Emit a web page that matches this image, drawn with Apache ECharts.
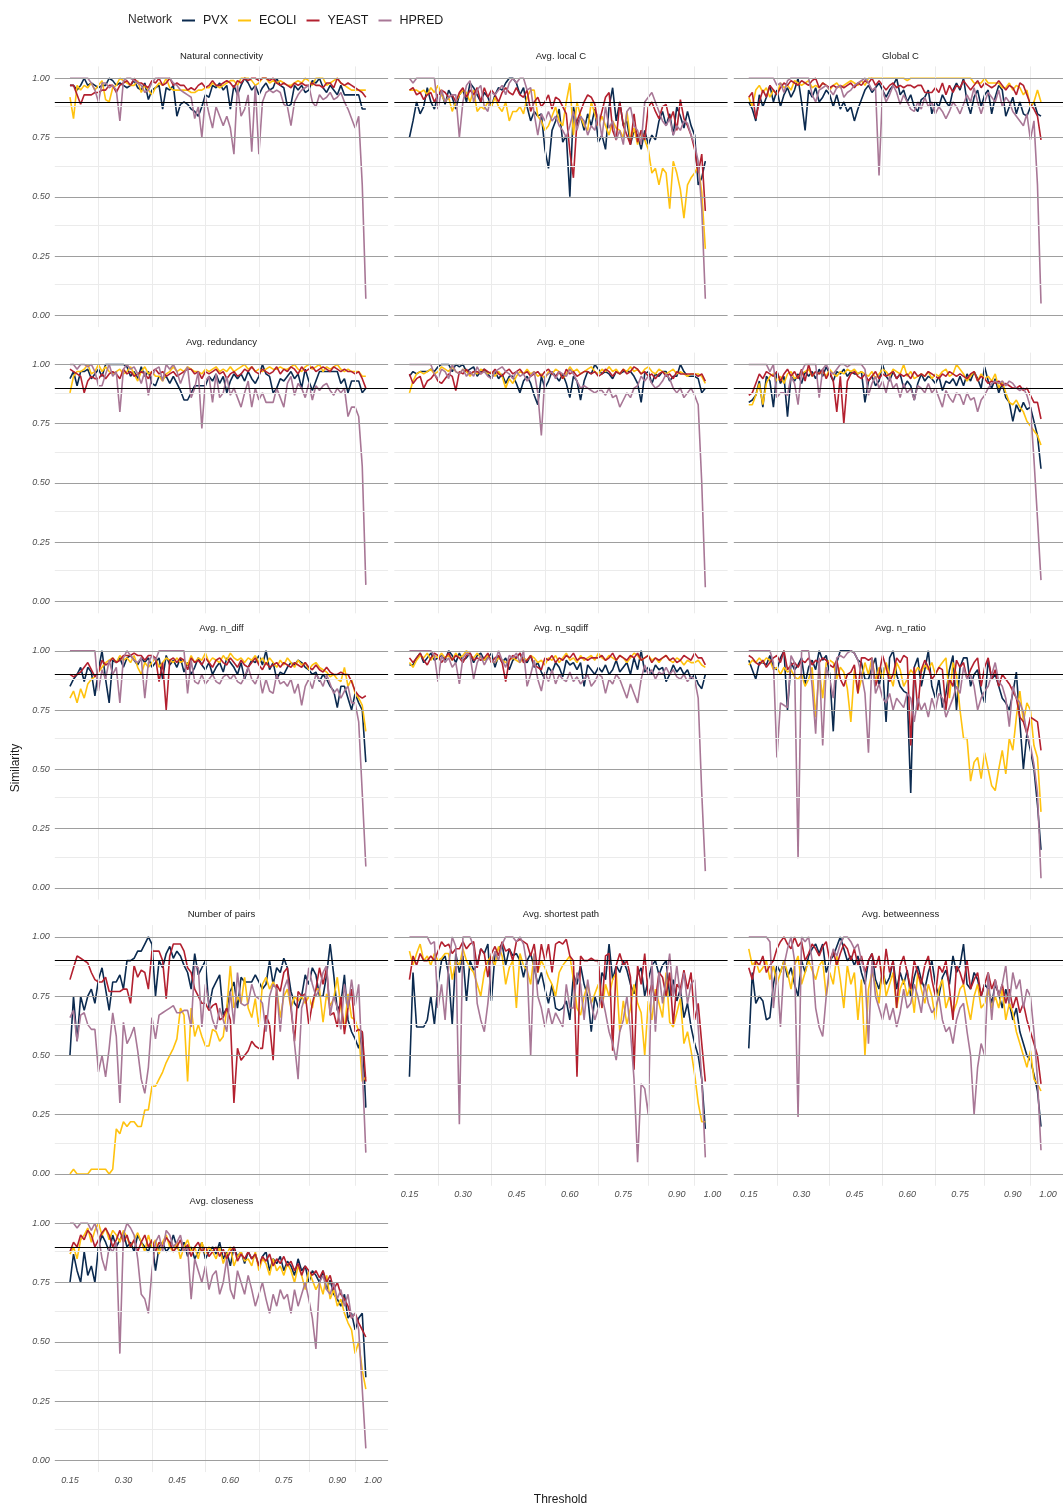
<!DOCTYPE html>
<html>
<head>
<meta charset="utf-8">
<script src="https://cdn.jsdelivr.net/npm/echarts@6/dist/echarts.min.js"></script>
<style>
html,body{margin:0;padding:0;background:#fff}
#chart{width:1063px;height:1506px}
</style>
</head>
<body>
<div id="chart"></div>
<script>
// Threshold values on the x axis
const thresholds = [0.15,0.16,0.17,0.18,0.19,0.20,0.21,0.22,0.23,0.24,0.25,0.26,0.27,0.28,0.29,0.30,0.31,0.32,0.33,0.34,
0.35,0.36,0.37,0.38,0.39,0.40,0.41,0.42,0.43,0.44,0.45,0.46,0.47,0.48,0.49,0.50,0.51,0.52,0.53,0.54,
0.55,0.56,0.57,0.58,0.59,0.60,0.61,0.62,0.63,0.64,0.65,0.66,0.67,0.68,0.69,0.70,0.71,0.72,0.73,0.74,
0.75,0.76,0.77,0.78,0.79,0.80,0.81,0.82,0.83,0.84,0.85,0.86,0.87,0.88,0.89,0.90,0.91,0.92,0.93,0.94,
0.95,0.96,0.97,0.98];

const xTickLabels = [0.15,0.30,0.45,0.60,0.75,0.90,1.00];
const yTickLabels = [0,0.25,0.5,0.75,1];
const networks = ['PVX','ECOLI','YEAST','HPRED'];
const panelTitles = ['Natural connectivity','Avg. local C','Global C','Avg. redundancy','Avg. e_one','Avg. n_two',
  'Avg. n_diff','Avg. n_sqdiff','Avg. n_ratio','Number of pairs','Avg. shortest path','Avg. betweenness','Avg. closeness'];

// Natural connectivity
const natConnPVX = [0.97,0.97,0.95,0.97,1.0,0.97,0.98,0.97,0.96,0.97, 0.97,1.0,0.99,0.97,0.98,0.97,0.96,0.97,0.99,0.96, 0.95,0.98,0.91,0.95,0.96,0.97,0.87,0.96,0.95,0.97, 0.84,0.89,0.9,0.89,0.87,0.86,0.84,0.88,0.93,0.92, 0.97,0.96,0.98,0.95,0.97,0.87,0.97,0.93,0.97,1.0, 0.98,0.95,0.97,0.93,0.96,0.98,0.95,0.96,1.0,0.97, 0.96,0.88,0.89,0.97,0.95,0.97,0.94,0.95,0.99,0.98, 1.0,0.96,0.94,0.97,0.95,0.93,0.97,0.93,0.93,0.93, 0.93,0.93,0.87,0.87];
const natConnECOLI = [0.92,0.83,0.97,0.95,0.97,0.96,0.98,0.95,0.97,0.99, 0.91,0.9,0.96,0.97,1.0,0.99,0.98,0.97,0.97,0.99, 0.94,0.97,0.95,0.93,0.96,0.98,0.97,1.0,0.96,0.95, 0.95,0.95,0.95,0.95,0.94,0.94,0.95,0.95,0.96,0.96, 0.98,0.97,0.96,0.97,0.98,0.99,0.99,0.97,1.0,1.0, 1.0,0.99,0.97,0.98,1.0,1.0,0.98,0.99,0.98,0.99, 0.98,0.97,0.97,0.98,0.99,0.98,1.0,0.99,0.97,1.0, 1.0,1.0,0.97,0.98,0.99,1.0,0.98,0.97,0.96,0.95, 0.95,0.95,0.95,0.95];
const natConnYEAST = [0.97,0.97,0.93,0.89,0.93,0.93,0.93,0.94,0.94,0.95, 0.95,0.97,0.97,0.94,0.97,0.98,0.99,0.97,1.0,0.98, 0.98,0.97,0.96,0.99,0.98,1.0,0.97,0.98,1.0,0.97, 0.98,0.97,0.97,0.95,0.96,0.95,0.97,0.98,0.96,0.97, 0.99,0.97,0.97,0.98,0.99,0.98,0.96,0.99,0.98,1.0, 0.99,1.0,1.0,0.99,1.0,1.0,0.99,1.0,0.98,0.97, 0.98,0.97,0.96,0.98,0.97,0.98,0.97,0.97,0.98,0.97, 0.97,0.96,0.98,0.98,0.96,1.0,0.98,0.97,0.98,0.97, 0.96,0.95,0.94,0.92];
const natConnHPRED = [1.0,1.0,1.0,1.0,1.0,1.0,0.98,0.95,0.9,0.98, 0.98,0.96,0.97,0.95,0.82,0.99,1.0,1.0,0.99,0.98, 0.97,0.94,0.95,0.98,1.0,1.0,1.0,1.0,1.0,0.98, 0.97,0.95,0.94,0.93,0.92,0.83,0.88,0.75,0.92,0.85, 0.79,0.88,0.84,0.8,0.84,0.79,0.68,0.97,0.84,0.87, 0.93,0.69,0.97,0.68,0.9,0.94,0.95,0.94,0.95,0.94, 0.89,0.88,0.8,0.9,0.93,0.95,0.96,0.97,0.9,0.88, 0.93,0.91,0.92,0.94,0.91,0.92,0.94,0.9,0.87,0.83, 0.79,0.84,0.55,0.07];

// Avg. local C
const localCPVX = [0.75,0.82,0.9,0.85,0.88,0.96,0.9,0.87,0.93,0.94, 0.89,0.95,0.92,0.87,0.93,0.95,0.9,0.98,0.96,0.93, 0.9,0.94,0.92,0.88,0.93,0.96,0.95,0.98,1.0,1.0, 0.98,0.93,0.96,0.88,0.82,0.86,0.84,0.85,0.7,0.62, 0.78,0.82,0.87,0.73,0.76,0.5,0.88,0.8,0.84,0.78, 0.85,0.8,0.87,0.73,0.76,0.7,0.88,0.96,0.82,0.9, 0.8,0.82,0.72,0.78,0.76,0.7,0.78,0.72,0.76,0.74, 0.82,0.86,0.8,0.85,0.76,0.88,0.84,0.79,0.86,0.8, 0.76,0.55,0.58,0.65];
const localCECOLI = [0.95,0.95,0.95,0.94,0.95,0.93,0.96,0.94,0.97,0.93, 0.9,0.92,0.86,0.9,0.93,0.95,0.94,0.9,0.95,0.86, 0.88,0.87,0.9,0.88,0.92,0.88,0.86,0.9,0.82,0.86, 0.86,0.88,0.85,0.92,0.95,0.95,0.84,0.82,0.78,0.8, 0.84,0.88,0.82,0.8,0.9,0.98,0.76,0.9,0.84,0.8, 0.78,0.9,0.85,0.8,0.84,0.8,0.76,0.82,0.79,0.78, 0.75,0.86,0.74,0.79,0.72,0.78,0.74,0.7,0.6,0.62, 0.55,0.62,0.6,0.45,0.65,0.6,0.53,0.41,0.55,0.58, 0.6,0.63,0.52,0.28];
const localCYEAST = [0.95,0.96,0.93,0.94,0.91,0.93,0.94,0.9,0.93,0.95, 0.94,0.92,0.93,0.9,0.94,0.96,0.92,0.95,0.93,0.96, 0.9,0.96,0.92,0.95,0.93,0.9,0.94,0.96,0.94,0.93, 0.96,0.93,0.92,0.95,0.86,0.9,0.92,0.88,0.9,0.93, 0.87,0.92,0.91,0.88,0.85,0.69,0.58,0.82,0.86,0.9, 0.93,0.92,0.89,0.8,0.86,0.92,0.94,0.78,0.74,0.9, 0.8,0.76,0.72,0.85,0.73,0.78,0.74,0.88,0.9,0.86, 0.83,0.88,0.89,0.82,0.86,0.78,0.91,0.83,0.8,0.76, 0.7,0.6,0.68,0.44];
const localCHPRED = [1.0,0.98,1.0,1.0,1.0,1.0,1.0,1.0,0.87,0.95, 0.9,0.92,0.93,0.93,0.75,0.9,0.97,0.99,0.9,0.95, 0.97,0.88,0.86,0.94,0.93,0.95,0.97,0.93,0.98,1.0, 0.98,1.0,1.0,0.95,0.96,0.85,0.76,0.85,0.82,0.86, 0.82,0.84,0.8,0.78,0.75,0.8,0.86,0.78,0.84,0.82, 0.76,0.8,0.78,0.85,0.75,0.88,0.79,0.82,0.74,0.78, 0.72,0.86,0.88,0.8,0.78,0.72,0.9,0.92,0.94,0.9, 0.86,0.82,0.8,0.83,0.76,0.8,0.78,0.82,0.81,0.76, 0.72,0.65,0.45,0.07];

// Global C
const globalCPVX = [0.9,0.87,0.82,0.93,0.88,0.92,0.97,0.9,0.95,0.88, 0.93,0.96,0.92,0.95,1.0,0.9,0.78,0.95,0.92,0.96, 0.9,0.92,0.95,0.93,0.88,0.93,0.87,0.9,0.86,0.88, 0.82,0.87,0.91,0.95,0.97,0.94,0.96,0.98,0.95,0.92, 0.95,0.97,1.0,0.93,0.95,0.9,0.93,0.88,0.86,0.91, 0.92,0.95,0.85,0.9,0.88,0.93,0.9,0.88,0.95,0.98, 0.95,1.0,0.9,0.85,0.92,0.95,0.88,0.93,0.95,0.85, 0.92,0.97,0.95,0.84,0.88,0.92,0.85,0.9,0.85,0.84, 0.88,0.9,0.85,0.84];
const globalCECOLI = [0.92,0.88,0.95,0.97,0.94,0.96,0.92,0.95,0.93,0.98, 0.96,0.97,0.95,0.99,0.98,0.97,0.98,0.99,0.96,0.97, 0.96,0.98,0.97,0.95,0.97,0.98,0.96,0.97,0.98,0.99, 0.98,0.97,0.99,0.97,1.0,1.0,1.0,1.0,1.0,1.0, 1.0,1.0,1.0,1.0,1.0,0.99,1.0,1.0,1.0,1.0, 1.0,1.0,1.0,1.0,1.0,1.0,1.0,1.0,1.0,1.0, 1.0,1.0,1.0,1.0,0.98,0.98,0.98,1.0,0.98,0.98, 0.98,0.98,0.96,0.96,0.98,0.95,0.97,0.96,0.93,0.95, 0.88,0.9,0.95,0.9];
const globalCYEAST = [0.92,0.94,0.83,0.9,0.95,0.92,0.97,0.95,0.93,0.96, 0.98,0.97,0.99,0.98,0.97,0.99,0.98,0.97,0.99,1.0, 0.96,0.98,0.97,0.96,0.97,0.96,0.97,0.96,0.97,0.98, 0.96,0.98,0.97,0.99,0.98,1.0,0.97,0.99,0.97,0.95, 0.97,0.98,0.96,0.97,0.96,0.97,0.97,0.96,0.97,0.97, 0.94,0.94,0.94,0.96,0.94,0.98,0.93,0.97,0.94,0.97, 0.96,0.99,0.97,0.95,0.97,0.99,0.96,0.98,0.97,0.96, 0.97,0.99,0.97,0.95,0.97,0.96,0.93,0.98,0.97,0.93, 0.89,0.87,0.84,0.74];
const globalCHPRED = [1.0,1.0,1.0,1.0,1.0,1.0,1.0,1.0,0.97,0.98, 0.94,0.99,1.0,1.0,1.0,1.0,1.0,1.0,0.93,0.9, 0.95,0.96,0.97,0.95,0.93,0.96,0.97,0.92,0.94,0.95, 0.97,0.98,0.99,1.0,0.98,0.95,0.96,0.59,0.95,0.9, 0.93,0.97,0.94,0.89,0.93,0.9,0.87,0.86,0.9,0.87, 0.92,0.88,0.9,0.85,0.88,0.86,0.83,0.86,0.9,0.88, 0.85,0.89,0.93,0.9,0.96,0.9,0.85,0.9,0.94,0.92, 0.9,0.95,0.88,0.92,0.9,0.86,0.84,0.82,0.8,0.85, 0.74,0.82,0.55,0.05];

// Avg. redundancy
const redundPVX = [0.94,0.97,0.91,0.97,0.97,0.98,0.94,0.96,0.98,0.95, 1.0,1.0,1.0,1.0,1.0,1.0,0.99,0.95,0.97,0.94, 0.99,0.95,0.97,0.92,0.91,0.95,0.94,0.95,0.92,0.95, 0.92,0.89,0.85,0.85,0.88,0.91,0.91,0.91,0.91,0.95, 0.93,0.96,0.92,0.95,0.88,0.93,0.96,0.94,0.96,0.93, 0.97,0.94,0.92,0.95,1.0,0.96,0.95,0.88,0.9,0.94, 0.93,0.95,0.97,0.94,0.96,0.9,0.98,0.93,0.89,0.93, 0.97,0.97,0.97,0.97,0.97,0.97,0.92,0.94,0.88,0.93, 0.93,0.93,0.88,0.9];
const redundECOLI = [0.88,0.95,0.97,0.97,0.98,1.0,0.96,0.97,1.0,0.97, 0.99,0.97,0.96,0.97,0.98,0.96,0.97,0.99,0.96,0.93, 0.97,0.99,0.96,0.97,0.95,0.95,0.93,0.96,0.97,0.99, 0.97,0.98,0.97,0.99,0.98,0.97,0.97,0.96,0.98,0.97, 0.98,0.99,0.97,0.98,0.97,0.99,0.97,0.98,0.99,1.0, 0.98,0.99,0.97,0.98,0.97,0.98,0.99,0.98,0.98,0.99, 0.98,0.98,0.99,1.0,0.98,0.97,0.99,1.0,0.98,0.99, 1.0,0.97,0.99,0.98,0.99,1.0,0.98,0.97,0.98,0.97, 0.97,0.97,0.95,0.95];
const redundYEAST = [0.98,0.97,0.96,0.95,0.88,0.93,0.95,0.94,0.94,0.96, 0.94,0.96,0.97,0.96,0.94,0.98,0.96,0.97,0.95,0.96, 0.97,0.96,0.94,0.97,0.98,0.96,0.97,0.95,0.96,0.97, 0.95,0.96,0.97,0.98,0.98,0.96,0.97,0.94,0.97,0.96, 0.97,0.98,0.96,0.97,0.94,0.96,0.97,0.95,0.96,0.98, 0.97,0.99,0.97,0.96,0.98,0.97,0.96,0.97,0.99,0.96, 0.98,0.97,0.99,0.98,0.96,0.99,0.97,0.98,0.99,0.97, 0.98,0.99,0.98,0.97,0.99,0.98,0.97,0.98,0.97,0.97, 0.96,0.97,0.94,0.9];
const redundHPRED = [1.0,1.0,0.98,1.0,1.0,0.99,1.0,0.97,0.91,0.91, 0.96,1.0,0.95,0.97,0.8,0.98,1.0,0.98,0.99,0.96, 0.92,0.97,0.87,0.95,0.98,0.99,0.93,1.0,0.98,1.0, 0.97,0.92,0.96,0.99,0.86,0.9,0.97,0.73,0.93,0.95, 0.84,0.96,0.86,0.88,0.95,0.87,0.9,0.86,0.82,0.88, 0.93,0.82,0.9,0.85,0.88,0.84,0.84,0.84,0.9,0.86, 0.82,0.92,0.95,0.87,0.92,0.9,0.86,0.92,0.85,0.91, 0.89,0.91,0.92,0.89,0.87,0.9,0.88,0.9,0.78,0.82, 0.82,0.78,0.57,0.07];

// Avg. e_one
const eOnePVX = [0.95,0.97,0.96,0.97,0.97,0.97,0.98,0.97,0.99,1.0, 1.0,1.0,0.97,1.0,0.99,1.0,0.97,0.98,0.99,0.95, 0.97,0.98,0.96,0.94,0.97,0.94,0.96,0.92,0.95,0.95, 0.92,0.88,0.93,0.95,0.92,0.87,0.83,0.95,0.9,0.93, 0.97,0.95,0.93,0.96,0.92,0.86,0.95,0.93,0.85,0.93, 0.97,0.96,1.0,0.98,0.96,0.97,0.96,0.94,0.97,0.96, 0.97,0.97,0.97,0.95,0.92,0.84,0.96,0.97,0.92,0.96, 0.95,0.97,0.97,0.93,0.95,0.95,1.0,0.97,0.95,0.95, 0.95,0.94,0.88,0.9];
const eOneECOLI = [0.88,0.93,0.96,0.97,0.96,0.97,0.98,0.96,0.97,0.99, 0.98,0.97,0.99,0.97,0.96,0.98,0.97,0.95,0.97,0.96, 0.98,0.97,0.96,0.97,0.95,0.97,0.95,0.9,0.94,0.92, 0.95,0.97,0.96,0.98,0.96,0.97,0.95,0.96,0.94,0.97, 0.96,0.98,0.97,0.94,0.96,0.99,0.97,0.98,0.96,0.97, 0.98,0.99,0.97,0.96,0.98,0.97,0.99,0.97,0.98,0.96, 0.98,0.97,0.99,0.97,0.98,0.96,0.98,0.99,0.97,0.96, 0.98,0.97,0.96,0.97,0.98,0.96,0.97,0.96,0.95,0.96, 0.96,0.96,0.95,0.92];
const eOneYEAST = [0.96,0.92,0.94,0.95,0.9,0.93,0.94,0.96,0.93,0.92, 0.94,0.96,0.95,0.89,0.97,0.96,0.98,0.96,0.97,0.97, 0.96,0.98,0.97,0.96,0.98,0.96,0.95,0.97,0.98,0.96, 0.97,0.98,0.96,0.97,0.95,0.96,0.97,0.95,0.97,0.98, 0.96,0.95,0.97,0.94,0.98,0.96,0.97,0.95,0.96,0.97, 0.97,0.96,0.97,0.95,0.96,0.98,0.97,0.95,0.97,0.96, 0.98,0.96,0.97,0.99,0.98,0.96,0.97,0.95,0.96,0.94, 0.96,0.97,0.95,0.96,0.94,0.97,0.96,0.96,0.96,0.96, 0.96,0.95,0.96,0.93];
const eOneHPRED = [1.0,1.0,1.0,1.0,1.0,1.0,1.0,0.96,0.94,0.98, 0.97,0.94,1.0,0.97,0.96,0.98,0.95,0.97,0.95,0.99, 0.96,0.97,0.95,0.94,0.97,0.98,0.99,0.97,0.96,0.94, 0.97,0.95,0.96,0.93,0.95,0.97,0.88,0.7,0.95,0.96, 0.97,0.94,0.97,0.96,0.95,0.98,0.96,0.93,0.9,0.91, 0.9,0.89,0.88,0.89,0.89,0.87,0.9,0.86,0.87,0.82, 0.85,0.88,0.86,0.9,0.91,0.95,0.93,0.95,0.92,0.9, 0.91,0.93,0.96,0.94,0.9,0.88,0.9,0.86,0.88,0.9, 0.87,0.83,0.5,0.06];

// Avg. n_two
const nTwoPVX = [0.84,0.85,0.87,0.93,0.82,0.95,0.93,0.82,0.97,0.92, 0.95,0.78,0.95,0.93,0.96,0.92,0.97,0.95,0.97,0.94, 0.98,0.95,0.99,0.96,0.93,0.97,0.96,0.98,0.95,0.97, 0.96,0.96,0.97,0.84,0.93,0.95,0.91,0.93,1.0,0.95, 0.93,0.97,0.94,0.96,0.9,0.93,0.91,0.85,0.92,0.96, 0.93,0.95,0.94,0.92,0.95,0.89,0.93,0.92,0.94,0.91, 0.95,0.91,0.96,0.93,0.97,0.94,0.9,0.99,0.93,0.9, 0.94,0.88,0.92,0.86,0.84,0.76,0.83,0.8,0.84,0.81, 0.82,0.76,0.7,0.56];
const nTwoECOLI = [0.83,0.83,0.87,0.92,0.83,0.92,0.95,0.96,0.93,0.95, 0.92,0.96,0.97,0.94,0.95,0.96,0.97,0.98,0.95,0.97, 0.96,0.97,0.95,0.98,0.96,0.95,0.97,0.96,0.98,0.97, 0.98,0.96,0.97,0.96,0.95,0.97,0.94,0.96,0.98,0.97, 0.95,0.98,0.97,0.96,1.0,0.95,0.97,0.94,0.95,0.96, 0.95,0.97,0.94,0.96,0.95,0.97,0.98,0.95,0.96,1.0, 0.98,0.96,0.93,0.95,0.97,0.93,0.96,0.94,0.95,0.93, 0.96,0.9,0.93,0.88,0.84,0.83,0.85,0.82,0.8,0.76, 0.74,0.72,0.7,0.66];
const nTwoYEAST = [0.87,0.88,0.92,0.96,0.94,0.97,0.96,0.95,0.97,0.93, 0.96,0.98,0.95,0.97,0.94,0.98,0.93,1.0,0.95,0.97, 0.96,0.98,0.94,0.97,0.93,0.8,0.95,0.75,0.93,0.96, 0.97,0.95,0.94,0.96,0.93,0.95,0.97,0.94,0.96,0.95, 0.96,0.97,0.94,0.96,0.95,0.96,0.94,0.97,0.95,0.96, 0.95,0.97,0.96,0.95,0.94,0.96,0.95,0.97,0.96,0.95, 0.96,0.95,0.94,0.96,0.97,0.93,0.95,0.94,0.92,0.93, 0.92,0.93,0.91,0.92,0.91,0.9,0.9,0.91,0.89,0.9, 0.87,0.84,0.84,0.77];
const nTwoHPRED = [1.0,1.0,1.0,1.0,1.0,1.0,0.97,1.0,0.86,0.88, 0.88,0.87,0.95,0.92,0.83,0.97,1.0,1.0,1.0,1.0, 0.86,0.98,1.0,0.97,0.96,0.98,1.0,1.0,0.99,1.0, 1.0,1.0,1.0,0.98,0.87,0.92,0.95,0.9,0.93,0.88, 0.95,0.9,0.92,0.86,0.92,0.88,0.9,0.85,0.91,0.9, 0.88,0.92,0.88,0.9,0.86,0.82,0.89,0.86,0.84,0.88, 0.87,0.83,0.88,0.85,0.86,0.8,0.85,0.87,0.9,0.92, 0.93,0.92,0.93,0.91,0.93,0.92,0.9,0.89,0.9,0.87, 0.82,0.6,0.35,0.09];

// Avg. n_diff
const nDiffPVX = [0.85,0.88,0.9,0.93,0.87,0.93,0.91,0.81,0.92,1.0, 0.88,0.78,0.96,0.95,0.97,0.93,0.97,0.98,0.96,0.94, 0.97,0.95,0.97,0.93,0.95,0.97,0.88,0.98,0.94,0.96, 0.93,0.97,0.91,0.95,0.9,0.93,0.97,0.94,0.92,0.95, 0.9,0.93,0.95,0.91,0.97,0.95,0.93,0.9,0.95,0.88, 0.93,0.96,0.95,0.98,0.94,1.0,0.92,0.95,0.88,0.91, 0.9,0.93,0.95,0.94,0.96,0.95,0.93,0.92,0.9,0.91, 0.87,0.9,0.88,0.85,0.83,0.76,0.85,0.85,0.8,0.75, 0.82,0.78,0.75,0.53];
const nDiffECOLI = [0.8,0.83,0.78,0.84,0.8,0.86,0.88,0.89,0.91,0.93, 0.95,0.96,0.97,0.95,0.98,0.96,0.97,0.95,0.98,0.93, 0.9,0.95,0.93,0.95,0.97,0.93,0.95,0.97,0.96,0.95, 0.97,0.95,0.96,0.94,0.98,0.95,0.97,0.96,0.99,0.95, 0.97,0.96,0.95,0.98,0.96,0.99,0.97,0.96,0.97,0.95, 0.97,0.96,0.98,0.95,0.97,0.94,0.97,0.95,0.93,0.96, 0.94,0.97,0.95,0.93,0.96,0.94,0.95,0.92,0.94,0.95, 0.93,0.92,0.91,0.89,0.9,0.88,0.87,0.93,0.85,0.88, 0.82,0.8,0.77,0.66];
const nDiffYEAST = [0.9,0.89,0.9,0.91,0.93,0.95,0.92,0.89,0.91,0.96, 0.94,0.95,0.97,0.95,0.96,0.98,0.98,0.98,0.99,0.98, 0.98,0.96,0.98,0.98,0.97,0.87,0.95,0.75,0.96,0.97, 0.95,0.97,0.96,0.92,0.97,0.95,0.96,0.94,0.97,0.95, 0.93,0.96,0.97,0.95,0.94,0.97,0.95,0.93,0.96,0.94, 0.93,0.95,0.97,0.94,0.92,0.95,0.93,0.94,0.95,0.93, 0.95,0.94,0.93,0.95,0.94,0.93,0.95,0.93,0.92,0.94, 0.92,0.91,0.93,0.91,0.9,0.9,0.91,0.9,0.9,0.87, 0.83,0.81,0.8,0.81];
const nDiffHPRED = [1.0,1.0,1.0,1.0,1.0,1.0,1.0,1.0,0.83,0.92, 0.88,0.96,0.9,0.93,0.78,0.97,1.0,0.98,0.96,0.95, 0.97,0.8,0.95,0.98,0.96,1.0,1.0,1.0,1.0,1.0, 1.0,1.0,1.0,0.82,0.96,0.87,0.86,0.9,0.86,0.88, 0.9,0.87,0.86,0.89,0.9,0.88,0.9,0.87,0.86,0.89, 0.93,0.88,0.86,0.9,0.82,0.88,0.83,0.82,0.9,0.86, 0.87,0.85,0.88,0.82,0.86,0.77,0.85,0.88,0.84,0.9, 0.88,0.85,0.9,0.86,0.82,0.84,0.8,0.83,0.85,0.78, 0.78,0.7,0.4,0.09];

// Avg. n_sqdiff
const nSqdiffPVX = [0.94,0.94,0.97,0.99,0.95,0.97,0.99,0.96,0.97,0.98, 0.96,1.0,0.98,0.95,0.99,0.96,0.97,0.99,0.95,0.98, 0.99,0.96,0.97,0.99,0.93,0.98,0.95,0.97,0.92,0.96, 0.97,0.99,0.96,0.95,0.98,0.93,0.95,0.91,0.88,0.93, 0.91,0.95,0.93,0.89,0.96,0.94,0.95,0.92,0.95,0.85, 0.94,0.92,0.9,0.93,0.91,0.94,0.9,0.92,0.96,0.91, 0.93,0.95,0.9,0.97,0.92,1.0,0.91,0.93,0.9,0.94, 0.92,0.93,0.87,0.9,0.94,0.91,0.93,0.9,0.92,0.88, 0.9,0.86,0.84,0.9];
const nSqdiffECOLI = [0.95,0.93,0.96,0.98,0.97,0.99,0.96,0.98,0.97,0.99, 0.97,0.98,0.96,0.99,0.97,0.98,1.0,0.98,0.97,0.99, 0.97,0.96,0.98,0.96,0.95,0.97,0.96,0.95,0.96,0.97, 0.96,0.95,0.97,0.96,0.98,0.97,0.95,0.96,0.94,0.97, 0.96,0.98,0.95,0.97,0.99,0.96,0.97,0.95,0.98,0.96, 0.97,0.98,0.96,0.99,0.97,0.96,0.98,0.97,0.96,0.98, 0.97,0.95,0.97,0.99,0.98,0.96,0.97,0.98,0.96,0.97, 0.95,0.97,0.98,0.96,0.95,0.97,0.96,0.94,0.96,0.95, 0.95,0.96,0.94,0.93];
const nSqdiffYEAST = [0.97,0.95,0.97,0.99,0.96,0.94,0.97,0.99,0.98,0.95, 0.97,0.99,0.96,0.98,0.97,0.95,0.98,0.99,0.96,0.97, 0.96,0.97,0.99,0.95,0.97,0.98,0.95,0.87,0.96,0.98, 0.97,0.99,0.95,0.96,0.98,0.94,0.93,0.92,0.97,0.96, 0.98,0.95,0.97,0.96,0.98,0.97,0.99,0.96,0.97,0.97, 0.96,0.97,0.97,0.97,0.98,0.96,0.97,0.99,0.96,0.98, 0.97,0.96,0.98,0.97,0.99,0.96,0.97,0.98,0.95,0.97, 0.96,0.97,0.98,0.96,0.97,0.95,0.96,0.98,0.97,0.96, 0.99,0.97,0.97,0.94];
const nSqdiffHPRED = [1.0,1.0,1.0,1.0,1.0,1.0,1.0,0.98,0.87,0.98, 0.95,0.97,0.93,0.95,0.86,0.97,0.99,0.98,0.88,0.95, 0.98,0.94,0.97,0.96,0.95,1.0,0.96,0.93,0.98,0.97, 0.99,0.95,1.0,0.85,0.9,0.96,0.88,0.83,0.91,0.87, 0.92,0.86,0.9,0.88,0.87,0.91,0.87,0.89,0.86,0.88, 0.9,0.85,0.87,0.9,0.89,0.82,0.88,0.86,0.9,0.88, 0.84,0.8,0.86,0.82,0.78,0.88,0.94,0.9,0.92,0.88, 0.91,0.9,0.93,0.9,0.92,0.89,0.88,0.9,0.87,0.89, 0.88,0.8,0.4,0.07];

// Avg. n_ratio
const nRatioPVX = [0.96,0.92,0.88,0.95,0.95,0.94,0.98,0.93,0.92,0.97, 1.0,0.75,0.95,0.92,0.94,0.97,0.86,0.93,0.96,0.92, 1.0,0.96,0.98,0.9,0.66,0.95,1.0,1.0,1.0,1.0, 0.99,0.96,0.95,0.88,0.88,0.93,0.97,0.85,0.93,0.7, 0.97,1.0,0.9,0.85,0.83,0.82,0.4,0.93,0.97,0.85, 0.92,1.0,0.85,0.8,0.88,0.76,0.82,0.92,0.98,0.75, 0.93,0.97,0.97,0.85,0.9,0.92,0.83,0.78,0.96,0.88, 0.9,0.85,0.8,0.78,0.75,0.82,0.91,0.7,0.5,0.65, 0.58,0.5,0.35,0.16];
const nRatioECOLI = [0.94,0.96,0.95,0.97,0.95,0.97,0.96,0.92,0.93,0.9, 0.93,0.91,0.92,0.89,0.88,0.9,0.85,0.88,0.93,0.72, 0.92,0.8,0.95,0.96,0.95,0.88,0.93,0.91,0.84,0.7, 0.92,0.82,0.88,0.95,0.9,0.97,0.87,0.93,0.88,0.95, 0.9,0.85,0.95,0.92,0.85,0.88,0.92,0.9,0.93,0.91, 0.94,0.92,0.95,0.9,0.93,0.95,0.97,0.8,0.95,0.9, 0.75,0.63,0.63,0.45,0.53,0.55,0.46,0.57,0.5,0.43, 0.41,0.5,0.58,0.48,0.63,0.58,0.72,0.83,0.7,0.78, 0.75,0.6,0.55,0.32];
const nRatioYEAST = [0.98,0.97,0.95,0.94,0.96,0.93,0.95,0.97,0.98,0.95, 1.0,0.92,0.94,0.95,0.93,0.96,0.95,0.97,0.94,0.96, 0.95,0.97,0.96,0.94,0.93,0.96,0.88,0.85,0.9,0.91, 0.94,0.82,0.97,0.97,0.96,0.97,0.85,0.9,0.98,0.93, 0.87,0.9,0.97,0.95,0.98,0.97,0.6,0.93,0.75,0.92, 0.96,0.93,0.88,0.9,0.93,0.92,0.75,0.88,0.85,0.96, 0.93,0.95,0.88,0.92,0.95,0.97,0.85,0.93,0.97,0.88, 0.92,0.85,0.9,0.88,0.86,0.83,0.8,0.72,0.7,0.65, 0.72,0.71,0.7,0.58];
const nRatioHPRED = [1.0,1.0,1.0,1.0,1.0,1.0,1.0,0.95,0.55,0.78, 0.77,0.76,0.98,0.95,0.125,1.0,1.0,1.0,0.85,0.65, 0.97,0.6,0.93,0.88,0.8,0.97,0.98,0.97,0.99,1.0, 0.99,0.96,0.9,0.82,0.57,0.97,0.82,0.86,0.8,0.78, 0.82,0.75,0.8,0.78,0.76,0.82,0.8,0.7,0.8,0.75, 0.78,0.72,0.8,0.75,0.82,0.8,0.72,0.76,0.8,0.85, 0.82,0.93,0.88,0.9,0.85,0.75,0.8,0.83,0.85,0.9, 0.95,0.87,0.85,0.8,0.68,0.85,0.8,0.78,0.74,0.65, 0.6,0.52,0.4,0.04];

// Number of pairs
const pairsPVX = [0.5,0.75,0.56,0.75,0.69,0.75,0.78,0.72,0.82,0.87, 0.78,0.69,0.81,0.81,0.84,0.78,0.9,0.9,0.91,0.94, 0.94,0.97,1.0,0.97,0.75,0.9,0.87,0.93,0.96,0.91, 0.94,0.92,0.88,0.85,0.78,0.93,0.84,0.87,0.9,0.7, 0.78,0.81,0.84,0.67,0.7,0.77,0.81,0.7,0.83,0.81, 0.81,0.81,0.84,0.81,0.78,0.8,0.9,0.8,0.87,0.85, 0.91,0.87,0.77,0.72,0.7,0.75,0.84,0.8,0.87,0.84, 0.75,0.75,0.84,0.97,0.84,0.69,0.72,0.84,0.65,0.6, 0.57,0.53,0.6,0.28];
const pairsECOLI = [0.0,0.02,0.0,0.0,0.0,0.0,0.02,0.02,0.02,0.02, 0.02,0.0,0.02,0.19,0.17,0.22,0.2,0.22,0.22,0.2, 0.2,0.27,0.27,0.37,0.37,0.4,0.43,0.47,0.5,0.53, 0.57,0.7,0.67,0.39,0.7,0.58,0.63,0.58,0.54,0.54, 0.61,0.6,0.56,0.58,0.7,0.88,0.7,0.75,0.72,0.83, 0.7,0.66,0.74,0.62,0.8,0.83,0.78,0.81,0.78,0.66, 0.75,0.78,0.7,0.75,0.73,0.75,0.72,0.75,0.7,0.78, 0.78,0.64,0.76,0.71,0.74,0.83,0.7,0.61,0.76,0.66, 0.65,0.6,0.39,0.41];
const pairsYEAST = [0.82,0.87,0.92,0.91,0.9,0.89,0.85,0.82,0.81,0.81, 0.83,0.77,0.77,0.77,0.77,0.78,0.78,0.72,0.88,0.83, 0.86,0.85,0.78,0.94,0.94,0.94,0.9,0.74,0.92,0.97, 0.97,0.97,0.94,0.87,0.85,0.78,0.75,0.72,0.72,0.69, 0.71,0.72,0.65,0.66,0.7,0.65,0.3,0.53,0.48,0.5, 0.52,0.56,0.54,0.53,0.53,0.67,0.63,0.48,0.8,0.77, 0.85,0.87,0.7,0.56,0.77,0.75,0.76,0.63,0.72,0.78, 0.87,0.8,0.87,0.67,0.68,0.62,0.75,0.59,0.7,0.78, 0.6,0.61,0.6,0.39];
const pairsHPRED = [0.66,0.69,0.56,0.67,0.68,0.63,0.61,0.61,0.43,0.5, 0.41,0.53,0.68,0.58,0.3,0.64,0.55,0.58,0.62,0.52, 0.4,0.34,0.45,0.66,0.57,0.67,0.68,0.69,0.7,0.71, 0.68,0.68,0.69,0.69,0.62,0.88,0.87,0.62,0.8,0.72, 0.65,0.61,0.7,0.65,0.6,0.77,0.63,0.85,0.72,0.71, 0.72,0.8,0.75,0.74,0.72,0.6,0.75,0.8,0.78,0.6, 0.78,0.82,0.72,0.55,0.4,0.7,0.75,0.87,0.8,0.75, 0.78,0.85,0.88,0.67,0.75,0.7,0.61,0.8,0.7,0.82, 0.71,0.8,0.45,0.09];

// Avg. shortest path
const shortPathPVX = [0.41,0.85,0.62,0.62,0.62,0.65,0.75,0.63,0.8,0.9, 0.92,0.84,0.63,0.93,0.85,0.92,0.73,0.9,0.86,0.88, 0.95,0.93,0.97,0.73,0.93,0.95,0.97,0.88,0.95,0.92, 0.93,0.9,0.83,0.9,0.93,0.87,0.8,0.85,0.78,0.72, 0.8,0.7,0.69,0.7,0.73,0.65,0.84,0.8,0.88,0.8, 0.75,0.6,0.75,0.7,0.85,0.82,0.97,0.82,0.88,0.85, 0.9,0.86,0.8,0.76,0.84,0.87,0.75,0.82,0.88,0.9, 0.84,0.88,0.9,0.75,0.82,0.73,0.78,0.66,0.72,0.62, 0.55,0.5,0.4,0.19];
const shortPathECOLI = [0.94,0.88,0.93,0.97,0.9,0.92,0.88,0.93,0.9,0.91, 0.93,0.93,0.82,0.9,0.88,0.95,0.9,0.87,0.85,0.8, 0.75,0.85,0.9,0.92,0.88,0.96,0.92,0.8,0.87,0.9, 0.7,0.93,0.88,0.86,0.8,0.93,0.85,0.9,0.87,0.83, 0.8,0.75,0.85,0.88,0.9,0.92,0.82,0.7,0.67,0.75, 0.8,0.72,0.76,0.8,0.7,0.8,0.75,0.82,0.85,0.6, 0.73,0.63,0.7,0.8,0.72,0.68,0.5,0.73,0.65,0.78, 0.72,0.66,0.85,0.64,0.62,0.68,0.74,0.55,0.6,0.52, 0.42,0.3,0.22,0.22];
const shortPathYEAST = [0.82,0.92,0.88,0.93,0.9,0.9,0.92,0.9,0.94,0.98, 0.96,0.97,0.93,0.95,0.95,0.98,0.95,0.97,0.98,0.87, 0.95,0.93,0.83,0.93,0.96,0.92,0.98,0.94,0.95,0.9, 0.98,0.99,0.98,0.97,0.92,0.97,0.85,0.97,0.9,0.97, 0.85,0.97,0.98,0.97,0.99,0.92,0.9,0.41,0.92,0.9, 0.9,0.91,0.9,0.9,0.7,0.92,0.93,0.52,0.88,0.93, 0.88,0.9,0.83,0.44,0.88,0.8,0.93,0.75,0.8,0.73, 0.85,0.83,0.75,0.85,0.63,0.8,0.78,0.86,0.78,0.85, 0.65,0.72,0.55,0.39];
const shortPathHPRED = [1.0,1.0,1.0,1.0,1.0,1.0,0.97,0.98,0.7,0.8, 0.65,0.88,1.0,0.96,0.21,1.0,1.0,1.0,0.96,0.72, 0.65,0.6,0.72,0.88,0.94,0.9,0.97,1.0,1.0,1.0, 0.98,1.0,0.97,0.88,0.5,0.93,0.75,0.7,0.62,0.7, 0.63,0.68,0.65,0.62,0.8,0.7,0.7,0.85,0.8,0.65, 0.82,0.72,0.65,0.7,0.75,0.68,0.6,0.55,0.48,0.6, 0.65,0.75,0.6,0.4,0.05,0.38,0.36,0.25,0.9,0.6, 0.85,0.72,0.82,0.93,0.75,0.88,0.75,0.85,0.72,0.8, 0.82,0.62,0.4,0.07];

// Avg. betweenness
const betweenPVX = [0.53,0.85,0.72,0.75,0.73,0.65,0.66,0.8,0.88,0.85, 0.9,0.83,0.87,0.8,0.75,0.9,0.85,0.92,0.95,0.97, 0.93,0.97,0.85,0.9,0.92,0.96,1.0,0.95,0.9,0.92, 0.88,0.92,0.85,0.8,0.9,0.93,0.82,0.78,0.85,0.8, 0.83,0.9,0.78,0.85,0.8,0.86,0.75,0.83,0.88,0.82, 0.78,0.85,0.9,0.8,0.75,0.83,0.86,0.8,0.92,0.85, 0.88,0.97,0.8,0.78,0.85,0.82,0.75,0.8,0.78,0.72, 0.8,0.76,0.7,0.78,0.72,0.65,0.7,0.6,0.55,0.5, 0.48,0.42,0.35,0.2];
const betweenECOLI = [0.95,0.88,0.9,0.85,0.87,0.9,0.82,0.88,0.8,0.85, 0.9,0.85,0.78,0.88,0.92,0.8,0.85,0.9,0.86,0.82, 0.88,0.9,0.75,0.85,0.8,0.92,0.82,0.7,0.88,0.8, 0.85,0.65,0.82,0.5,0.78,0.85,0.8,0.72,0.88,0.75, 0.8,0.85,0.7,0.78,0.82,0.75,0.8,0.68,0.85,0.78, 0.72,0.8,0.75,0.65,0.78,0.82,0.7,0.75,0.68,0.72, 0.78,0.8,0.72,0.65,0.75,0.8,0.7,0.72,0.78,0.7, 0.75,0.7,0.78,0.65,0.72,0.68,0.6,0.55,0.5,0.45, 0.52,0.4,0.38,0.35];
const betweenYEAST = [0.87,0.82,0.9,0.88,0.92,0.85,0.88,0.9,0.95,0.98, 1.0,0.97,0.95,1.0,0.96,0.98,0.9,0.93,0.97,0.95, 0.92,0.96,0.98,0.9,0.94,0.88,0.93,0.97,0.95,0.9, 0.95,0.88,0.92,0.85,0.9,0.93,0.87,0.92,0.8,0.95, 0.85,0.9,0.7,0.88,0.92,0.85,0.78,0.9,0.85,0.8, 0.88,0.92,0.82,0.75,0.88,0.85,0.9,0.78,0.65,0.88, 0.85,0.8,0.9,0.78,0.82,0.85,0.75,0.8,0.85,0.78, 0.82,0.75,0.8,0.72,0.78,0.7,0.75,0.68,0.72,0.65, 0.6,0.55,0.5,0.38];
const betweenHPRED = [1.0,1.0,1.0,1.0,1.0,1.0,0.98,0.7,0.85,0.62, 0.88,0.95,1.0,0.9,0.24,1.0,0.98,1.0,0.9,0.7, 0.62,0.58,0.75,0.88,0.95,0.92,0.97,1.0,1.0,0.98, 0.95,0.97,0.9,0.85,0.55,0.9,0.75,0.7,0.65,0.72, 0.65,0.7,0.62,0.68,0.78,0.7,0.72,0.8,0.75,0.68, 0.8,0.72,0.68,0.7,0.75,0.65,0.6,0.62,0.55,0.65, 0.7,0.72,0.6,0.5,0.25,0.45,0.55,0.5,0.85,0.65, 0.82,0.75,0.8,0.88,0.72,0.85,0.78,0.82,0.7,0.78, 0.75,0.6,0.4,0.1];

// Avg. closeness
const closePVX = [0.75,0.87,0.8,0.75,0.88,0.78,0.82,0.75,0.9,0.95, 0.92,0.88,0.95,0.9,0.93,0.96,0.9,0.92,0.88,0.95, 0.92,0.9,0.88,0.93,0.8,0.9,0.92,0.88,0.9,0.95, 0.9,0.88,0.92,0.86,0.9,0.85,0.88,0.92,0.85,0.88, 0.9,0.87,0.92,0.85,0.88,0.82,0.9,0.86,0.88,0.83, 0.88,0.85,0.87,0.82,0.86,0.88,0.8,0.85,0.83,0.86, 0.8,0.84,0.82,0.78,0.85,0.8,0.82,0.75,0.8,0.78, 0.75,0.8,0.72,0.76,0.7,0.68,0.65,0.7,0.6,0.62, 0.55,0.6,0.62,0.35];
const closeECOLI = [0.87,0.9,0.85,0.93,0.95,0.98,0.92,0.97,1.0,0.95, 0.98,0.93,0.97,0.95,0.92,0.97,0.94,0.9,0.93,0.96, 0.92,0.88,0.95,0.9,0.93,0.87,0.92,0.95,0.9,0.88, 0.92,0.85,0.9,0.93,0.88,0.9,0.85,0.92,0.87,0.9, 0.88,0.85,0.9,0.83,0.87,0.9,0.82,0.86,0.88,0.84, 0.85,0.82,0.88,0.8,0.85,0.83,0.78,0.85,0.8,0.82, 0.78,0.83,0.8,0.75,0.82,0.78,0.72,0.8,0.76,0.72, 0.75,0.7,0.78,0.68,0.72,0.65,0.68,0.62,0.58,0.55, 0.45,0.5,0.38,0.3];
const closeYEAST = [0.88,0.92,0.9,0.95,0.93,0.97,0.95,0.9,0.93,0.96, 0.98,0.95,0.9,0.93,0.97,0.92,0.95,0.9,0.93,0.88, 0.92,0.95,0.9,0.93,0.88,0.92,0.9,0.94,0.92,0.88, 0.9,0.93,0.88,0.91,0.86,0.9,0.92,0.88,0.9,0.86, 0.88,0.9,0.86,0.89,0.85,0.88,0.9,0.84,0.87,0.85, 0.88,0.85,0.87,0.82,0.86,0.84,0.87,0.82,0.85,0.83, 0.86,0.82,0.84,0.8,0.83,0.78,0.82,0.8,0.78,0.8, 0.77,0.8,0.75,0.78,0.72,0.75,0.7,0.68,0.65,0.6, 0.62,0.58,0.55,0.52];
const closeHPRED = [1.0,1.0,0.98,1.0,1.0,1.0,0.97,1.0,0.95,0.85, 0.8,0.9,0.88,0.92,0.45,0.95,1.0,0.98,0.95,0.85, 0.7,0.68,0.62,0.8,0.92,0.95,0.88,0.97,0.95,0.9, 0.92,0.95,0.88,0.9,0.68,0.85,0.8,0.75,0.82,0.72, 0.78,0.8,0.7,0.75,0.85,0.72,0.68,0.8,0.75,0.7, 0.78,0.72,0.65,0.7,0.75,0.68,0.62,0.7,0.65,0.72, 0.68,0.7,0.62,0.72,0.65,0.7,0.75,0.68,0.6,0.47, 0.75,0.78,0.72,0.7,0.75,0.68,0.72,0.65,0.7,0.6, 0.62,0.55,0.3,0.05];

// One row per facet: PVX, ECOLI, YEAST, HPRED
const panelSeries = [
  [natConnPVX, natConnECOLI, natConnYEAST, natConnHPRED],
  [localCPVX, localCECOLI, localCYEAST, localCHPRED],
  [globalCPVX, globalCECOLI, globalCYEAST, globalCHPRED],
  [redundPVX, redundECOLI, redundYEAST, redundHPRED],
  [eOnePVX, eOneECOLI, eOneYEAST, eOneHPRED],
  [nTwoPVX, nTwoECOLI, nTwoYEAST, nTwoHPRED],
  [nDiffPVX, nDiffECOLI, nDiffYEAST, nDiffHPRED],
  [nSqdiffPVX, nSqdiffECOLI, nSqdiffYEAST, nSqdiffHPRED],
  [nRatioPVX, nRatioECOLI, nRatioYEAST, nRatioHPRED],
  [pairsPVX, pairsECOLI, pairsYEAST, pairsHPRED],
  [shortPathPVX, shortPathECOLI, shortPathYEAST, shortPathHPRED],
  [betweenPVX, betweenECOLI, betweenYEAST, betweenHPRED],
  [closePVX, closeECOLI, closeYEAST, closeHPRED]
];

const colors = ['#0b2a4f', '#ffc20e', '#b3202f', '#a87796'];
const FONT = '"Liberation Sans", Arial, Helvetica, sans-serif';

// facet layout (pixels)
const colLeft = [54.8, 394.3, 733.8];
const rowTop = [66.4, 352.6, 638.9, 925.1, 1211.4];
const PW = 333.3, PH = 260.7;
const X_MIN = 0.1075, X_MAX = 1.0425, Y_MIN = -0.05, Y_MAX = 1.05;

const minorX = [0.225, 0.375, 0.525, 0.675, 0.825, 0.95];
const minorY = [0.125, 0.375, 0.625, 0.875];
const refLine = 0.9;

const grids = [], xAxes = [], yAxes = [], series = [], graphics = [];

panelSeries.forEach((lines, k) => {
  const r = Math.floor(k / 3), c = k % 3;
  grids.push({ left: colLeft[c], top: rowTop[r], width: PW, height: PH });
  const showX = k >= 10;
  const showY = c === 0;
  xAxes.push({
    gridIndex: k, type: 'value', min: X_MIN, max: X_MAX,
    axisLine: { show: false }, axisTick: { show: false }, splitLine: { show: false },
    axisLabel: {
      show: showX, customValues: xTickLabels, formatter: v => v.toFixed(2),
      fontFamily: FONT, fontStyle: 'italic', fontSize: 9, color: '#4d4d4d', margin: 4
    }
  });
  yAxes.push({
    gridIndex: k, type: 'value', min: Y_MIN, max: Y_MAX,
    axisLine: { show: false }, axisTick: { show: false }, splitLine: { show: false },
    axisLabel: {
      show: showY, customValues: yTickLabels, formatter: v => v.toFixed(2),
      fontFamily: FONT, fontStyle: 'italic', fontSize: 9, color: '#4d4d4d', margin: 5
    }
  });

  // panel background grid
  const gridLines = [];
  minorX.forEach(v => gridLines.push({ xAxis: v, lineStyle: { color: '#ebebeb', width: 1, type: 'solid' } }));
  minorY.forEach(v => gridLines.push({ yAxis: v, lineStyle: { color: '#ebebeb', width: 1, type: 'solid' } }));
  yTickLabels.forEach(v => gridLines.push({ yAxis: v, lineStyle: { color: '#9e9e9e', width: 1, type: 'solid' } }));
  series.push({
    type: 'line', xAxisIndex: k, yAxisIndex: k, data: [], z: 1, silent: true,
    markLine: { silent: true, symbol: 'none', label: { show: false }, data: gridLines, animation: false }
  });

  lines.forEach((vals, s) => {
    series.push({
      name: networks[s], type: 'line', xAxisIndex: k, yAxisIndex: k, z: 2,
      data: thresholds.map((t, i) => [t, vals[i]]),
      showSymbol: false, symbol: 'none', color: colors[s],
      lineStyle: { width: 1.6, color: colors[s] },
      emphasis: { disabled: true }
    });
  });

  // reference line at 0.9
  series.push({
    type: 'line', xAxisIndex: k, yAxisIndex: k, data: [], z: 3, silent: true,
    markLine: { silent: true, symbol: 'none', label: { show: false },
      data: [{ yAxis: refLine, lineStyle: { color: '#000000', width: 1, type: 'solid' } }], animation: false }
  });

  graphics.push({
    type: 'text', x: colLeft[c] + PW / 2, y: rowTop[r] - 10.4,
    style: { text: panelTitles[k], font: '9.5px ' + FONT, fill: '#1a1a1a', textAlign: 'center', textVerticalAlign: 'middle' }
  });
});

graphics.push({ type: 'text', x: 560.5, y: 1500,
  style: { text: 'Threshold', font: '12px ' + FONT, fill: '#1a1a1a', textAlign: 'center', textVerticalAlign: 'middle' } });
graphics.push({ type: 'text', x: 16, y: 768, rotation: Math.PI / 2,
  style: { text: 'Similarity', font: '12px ' + FONT, fill: '#1a1a1a', textAlign: 'center', textVerticalAlign: 'middle' } });
graphics.push({ type: 'text', x: 128, y: 19.5,
  style: { text: 'Network', font: '12px ' + FONT, fill: '#333333', textAlign: 'left', textVerticalAlign: 'middle' } });

const chart = echarts.init(document.getElementById('chart'), null, { renderer: 'canvas' });
chart.setOption({
  animation: false,
  backgroundColor: '#ffffff',
  grid: grids, xAxis: xAxes, yAxis: yAxes, series: series, graphic: graphics,
  legend: {
    data: networks, left: 182, top: 14, padding: 0, icon: 'rect', itemWidth: 13, itemHeight: 2, itemGap: 10,
    selectedMode: false,
    textStyle: { fontFamily: FONT, fontSize: 12.5, color: '#1a1a1a', padding: [0, 0, 0, 3] }
  }
});
</script>
</body>
</html>
